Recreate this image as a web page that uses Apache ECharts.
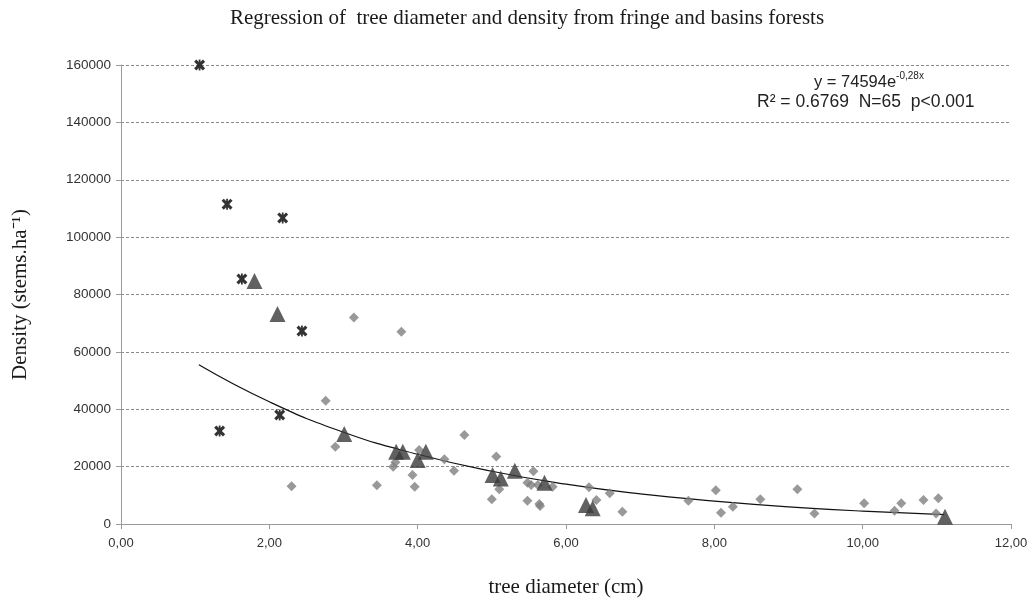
<!DOCTYPE html>
<html>
<head>
<meta charset="utf-8">
<script src="https://cdn.jsdelivr.net/npm/echarts@6/dist/echarts.min.js"></script>
<style>html,body{margin:0;padding:0;background:#fff}#c{width:1033px;height:606px}</style>
</head>
<body>
<div id="c"></div>
<script>
// Data
const crossX = [1.06, 1.43, 1.63, 2.18, 2.44, 1.33, 2.14];
const crossY = [160000, 111500, 85400, 106700, 67300, 32400, 38000];

const triX = [1.80, 2.11, 3.01, 3.71, 3.80, 4.00, 4.11, 5.01, 5.12, 5.31, 5.71, 6.27, 6.36, 11.11];
const triY = [84700, 73200, 31400, 25200, 25200, 22300, 25200, 17100, 15900, 18600, 14400, 6600, 5500, 2500];

const diaX = [3.14, 3.78, 2.76, 2.89, 2.30, 3.45, 3.67, 3.70, 3.93, 3.96, 4.02, 4.36, 4.49, 4.63, 5.06, 5.10, 5.00, 5.48, 5.53, 5.56, 5.48, 5.64, 5.65, 5.62, 5.82, 6.31, 6.41, 6.59, 6.76, 7.65, 8.02, 8.09, 8.25, 8.62, 9.12, 9.35, 10.02, 10.43, 10.52, 10.82, 11.02, 10.99];
const diaY = [72000, 67000, 43000, 26900, 13200, 13500, 20000, 21500, 17100, 13000, 25800, 22600, 18600, 31000, 23500, 12100, 8600, 14400, 13600, 18400, 8100, 7000, 6300, 13600, 13000, 12800, 8400, 10700, 4300, 8100, 11800, 3900, 6000, 8600, 12100, 3700, 7200, 4600, 7200, 8400, 9000, 3700];

// Trend line points
const trendX = [1.05, 2, 3, 4, 5, 6, 7, 8, 9, 10, 11.1];
const trendY = [55500, 42600, 32000, 24300, 18400, 13900, 10500, 8000, 6000, 4500, 3300];

const yTicks = [0, 20000, 40000, 60000, 80000, 100000, 120000, 140000, 160000];
const xTicks = ['0,00', '2,00', '4,00', '6,00', '8,00', '10,00', '12,00'];

const zip = (a, b) => a.map((v, i) => [v, b[i]]);
// star marker: bold X plus a vertical bar, all sub-paths wound the same way
const crossPath = 'path://M0,2 L2,0 L10,8 L8,10 Z M8,0 L10,2 L2,10 L0,8 Z M4.2,0 L5.8,0 L5.8,10 L4.2,10 Z';

const serif = 'Liberation Serif';
const sans = 'Liberation Sans';

const chart = echarts.init(document.getElementById('c'));
chart.setOption({
  animation: false,
  backgroundColor: '#fff',
  title: {
    text: 'Regression of  tree diameter and density from fringe and basins forests',
    left: 522, textAlign: 'center', top: 3,
    textStyle: { fontFamily: serif, fontSize: 21, fontWeight: 'normal', color: '#1a1a1a' }
  },
  grid: { left: 121, right: 22, top: 65, bottom: 82 },
  xAxis: {
    type: 'value', min: 0, max: 12, interval: 2,
    name: 'tree diameter (cm)', nameLocation: 'middle', nameGap: 53,
    nameTextStyle: { fontFamily: serif, fontSize: 21, color: '#1a1a1a' },
    axisLine: { lineStyle: { color: '#9a9a9a' } },
    axisTick: { show: true, length: 5, lineStyle: { color: '#9a9a9a' } },
    splitLine: { show: false },
    axisLabel: {
      margin: 13, fontFamily: sans, fontSize: 13, color: '#333',
      formatter: v => xTicks[Math.round(v / 2)]
    }
  },
  yAxis: {
    type: 'value', min: 0, max: 160000, interval: 20000,
    name: 'Density (stems.ha⁻¹)', nameLocation: 'middle', nameGap: 90, nameRotate: 90,
    nameTextStyle: { fontFamily: serif, fontSize: 21, color: '#1a1a1a' },
    axisLine: { show: true, lineStyle: { color: '#9a9a9a' } },
    axisTick: { show: true, length: 5, lineStyle: { color: '#9a9a9a' } },
    splitLine: { show: true, lineStyle: { color: '#8a8a8a', type: [3, 2], width: 1 } },
    axisLabel: {
      margin: 10, fontFamily: sans, fontSize: 13.5, color: '#333',
      formatter: v => String(yTicks[Math.round(v / 20000)])
    }
  },
  graphic: [{
    type: 'text', left: 814, top: 71,
    style: {
      text: '{a|y = 74594e}{s|-0,28x}',
      rich: {
        a: { fontFamily: sans, fontSize: 16.5, fill: '#222', verticalAlign: 'bottom', lineHeight: 20 },
        s: { fontFamily: sans, fontSize: 10, fill: '#222', verticalAlign: 'top', lineHeight: 20 }
      }
    }
  }, {
    type: 'text', left: 757, top: 93,
    style: { text: 'R² = 0.6769  N=65  p<0.001', fontFamily: sans, fontSize: 17.5, fill: '#222' }
  }],
  series: [
    {
      type: 'line', data: zip(trendX, trendY), smooth: true, symbol: 'none',
      lineStyle: { color: '#111', width: 1.2 }, z: 1
    },
    {
      type: 'scatter', data: zip(diaX, diaY), symbol: 'diamond', symbolSize: 10,
      itemStyle: { color: '#7f7f7f' }, z: 2
    },
    {
      type: 'scatter', data: zip(triX, triY), symbol: 'triangle', symbolSize: 16,
      itemStyle: { color: '#3a3a3a' }, z: 3
    },
    {
      type: 'scatter', data: zip(crossX, crossY), symbol: crossPath, symbolSize: 11,
      itemStyle: { color: '#000' }, z: 4
    }
  ]
});
</script>
</body>
</html>
